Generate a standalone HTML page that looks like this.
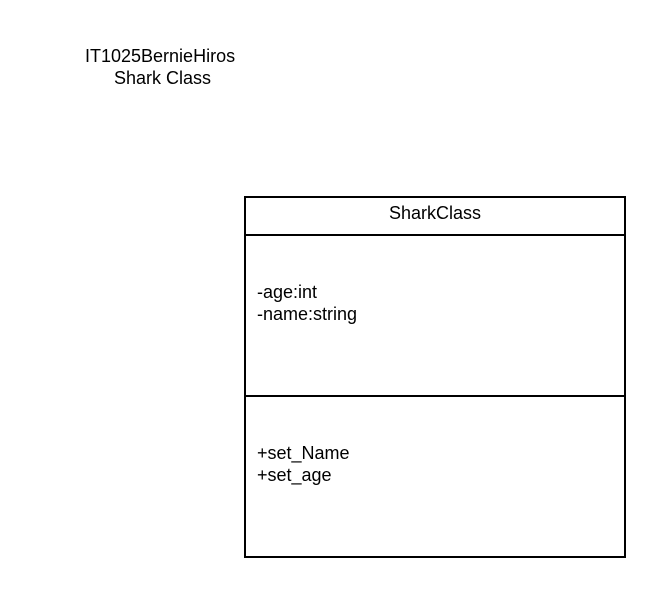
<!DOCTYPE html>
<html><head><style>
body{margin:0;width:665px;height:597px;background:#fff;position:relative;font-family:"Liberation Sans",sans-serif;color:#000;overflow:hidden}
.t{position:absolute;font-size:18px;white-space:nowrap}
.box{position:absolute;border:2px solid #000;box-sizing:border-box}
</style></head><body>
<div class="t" style="left:85px;top:46px">IT1025BernieHiros</div>
<div class="t" style="left:114px;top:68px">Shark Class</div>
<div class="box" style="left:244px;top:196px;width:382px;height:362px"></div>
<div style="position:absolute;left:244px;top:234px;width:382px;height:2px;background:#000"></div>
<div style="position:absolute;left:244px;top:395px;width:382px;height:2px;background:#000"></div>
<div class="t" style="left:389px;top:203px">SharkClass</div>
<div class="t" style="left:257px;top:281px;line-height:22px">-age:int<br>-name:string</div>
<div class="t" style="left:257px;top:442px;line-height:22px">+set_Name<br>+set_age</div>
</body></html>
